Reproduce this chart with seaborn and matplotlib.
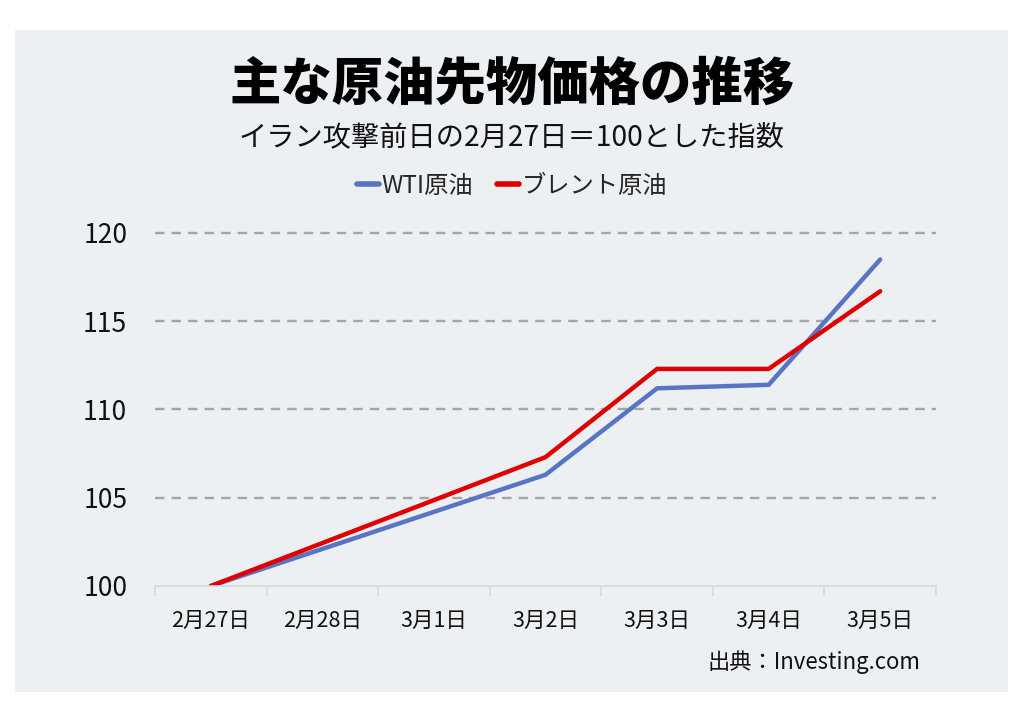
import numpy as np
import pandas as pd
import seaborn as sns
import matplotlib.pyplot as plt
from matplotlib.patches import Rectangle
from matplotlib.lines import Line2D

# Index values (Feb 27 = 100); weekend days have no quote
dates = ['2月27日', '2月28日', '3月1日', '3月2日', '3月3日', '3月4日', '3月5日']
wti = [100, np.nan, np.nan, 106.3, 111.2, 111.4, 118.5]
brent = [100, np.nan, np.nan, 107.3, 112.3, 112.3, 116.7]
series_names = ['WTI原油', 'ブレント原油']
y_ticks = [100, 105, 110, 115, 120]

df = pd.DataFrame({
    'pos': list(range(len(dates))) * 2,
    'value': wti + brent,
    'series': [series_names[0]] * len(dates) + [series_names[1]] * len(dates),
}).dropna()

sns.set_theme(style="white")
plt.rcParams['font.family'] = ['Noto Sans CJK JP', 'DejaVu Sans']

bg = '#ECF0F3'
colors = ['#5874C4', '#E00000']
fig = plt.figure(figsize=(10.24, 7.24), dpi=100)
fig.patch.set_facecolor('white')
fig.patches.append(Rectangle((15 / 1024, 32 / 724), 993 / 1024, 662 / 724,
                             transform=fig.transFigure, facecolor=bg,
                             edgecolor='none', zorder=-5))

ax = fig.add_axes([155 / 1024, 138 / 724, 781 / 1024, 353 / 724])
ax.set_zorder(2)
ax.set_facecolor(bg)

sns.lineplot(data=df, x='pos', y='value', hue='series', hue_order=series_names,
             palette=colors, linewidth=3.2, ax=ax, legend=False)

# dashed horizontal gridlines (not at the baseline)
for v in y_ticks[1:]:
    ax.axhline(v, color='#A5A5A5', linestyle=(0, (4, 3)), linewidth=1.7,
               zorder=0, clip_on=False)

ax.set_xlim(-0.5, len(dates) - 0.5)
ax.set_ylim(100, 120)
ax.set_yticks(y_ticks)
ax.set_yticklabels([str(v) for v in y_ticks], fontsize=19, color='#111111')
ax.set_xticks(range(len(dates)))
ax.set_xticklabels(dates, fontsize=15.5, color='#111111')
ax.set_xticks(np.arange(-0.5, len(dates), 1.0), minor=True)
ax.tick_params(axis='x', which='major', length=0, pad=17)
ax.tick_params(axis='x', which='minor', length=7, color='#D9D9D9', width=1.2,
               direction='out', bottom=True)
ax.tick_params(axis='y', length=0, pad=20)
ax.set_xlabel('')
ax.set_ylabel('')

for side in ['top', 'right', 'left']:
    ax.spines[side].set_visible(False)
ax.spines['bottom'].set_color('#D9D9D9')
ax.spines['bottom'].set_linewidth(1.2)

# title and subtitle
fig.text(0.5, 640 / 724, '主な原油先物価格の推移', ha='center', va='center',
         fontsize=37, fontweight='heavy', color='black')
fig.text(0.5, 586 / 724, 'イラン攻撃前日の2月27日＝100とした指数', ha='center',
         va='center', fontsize=20.3, color='#111111')

# legend
handles = [Line2D([], [], color=c, linewidth=4) for c in colors]
fig.legend(handles, series_names, loc='center', bbox_to_anchor=(0.5, 538 / 724),
           ncol=2, frameon=False, fontsize=17.5, handlelength=0.9,
           handletextpad=0.1, columnspacing=1.0)

fig.text(920 / 1024, 62 / 724, '出典：Investing.com', ha='right', va='center',
         fontsize=16, color='#111111')

plt.savefig('out.png', dpi=100, facecolor=fig.get_facecolor())
